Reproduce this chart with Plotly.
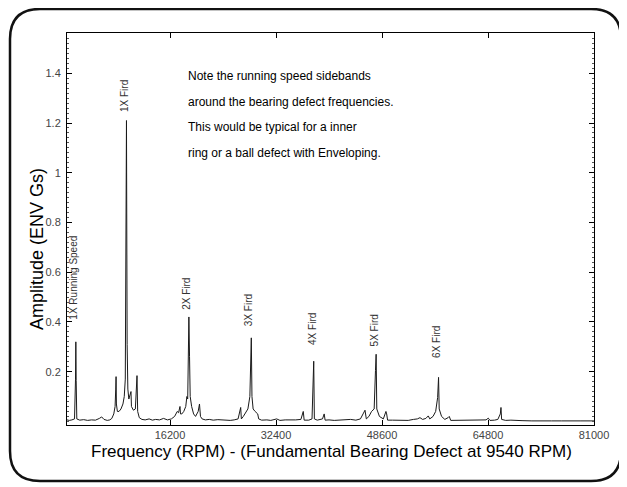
import plotly.graph_objects as go

# spectrum (RPM, ENV Gs)
freq = [450, 800, 1200, 1600, 1750, 1800, 1850, 1950, 2400, 3000, 3600, 4200, 4800, 5400, 5750, 6100,
        6600, 7000, 7300, 7600, 7800, 7900, 7950, 8000, 8150, 8400, 8700, 9000, 9200, 9360, 9450,
        9540, 9640, 9750, 9900, 10230, 10300, 10600, 10900, 11050, 11150, 11250, 11500, 11900, 12400,
        13000, 13500, 14000, 14600, 15200, 15800, 16400, 16900, 17300, 17500, 17720, 17800, 18000,
        18300, 18600, 18770, 18900, 19000, 19080, 19180, 19280, 19500, 19800, 20100, 20500, 20700,
        20850, 21100, 21600, 22200, 22800, 23500, 24200, 24800, 25400, 26000, 26600, 27000, 27100,
        27400, 27800, 28100, 28400, 28520, 28620, 28720, 28900, 29200, 29600, 29750, 30200, 31000,
        31600, 32500, 33000, 33800, 34600, 35400, 36200, 36560, 36700, 37400, 37900, 38060, 38160,
        38260, 38700, 39500, 39760, 39900, 40500, 41300, 42200, 43000, 43800, 44600, 45300, 45700,
        46000, 46200, 46600, 47000, 47400, 47600, 47700, 47800, 48200, 48800, 49200, 49310, 49450,
        50200, 51000, 51800, 52600, 53400, 54000, 54400, 54800, 55300, 55670, 55900, 56400, 56800,
        57100, 57240, 57340, 57700, 58200, 58700, 58880, 59100, 60000, 61000, 62000, 62700, 63400,
        64000, 64500, 64840, 65100, 65800, 66300, 66680, 66780, 66880, 67500, 68300, 69000, 70000,
        71500, 73000, 74500, 76000, 77500, 79000, 81000]
amp = [0.006, 0.004, 0.006, 0.010, 0.170, 0.320, 0.165, 0.010, 0.005, 0.007, 0.004, 0.006, 0.005, 0.012, 0.018, 0.008,
       0.004, 0.006, 0.012, 0.030, 0.060, 0.130, 0.180, 0.070, 0.040, 0.040, 0.050, 0.070, 0.100, 0.170, 0.780,
       1.210, 0.310, 0.130, 0.090, 0.120, 0.060, 0.045, 0.050, 0.110, 0.184, 0.040, 0.015, 0.008, 0.006,
       0.010, 0.005, 0.008, 0.006, 0.012, 0.006, 0.010, 0.020, 0.040, 0.035, 0.060, 0.030, 0.030,
       0.040, 0.060, 0.100, 0.090, 0.260, 0.420, 0.260, 0.100, 0.060, 0.030, 0.020, 0.040, 0.070,
       0.020, 0.010, 0.006, 0.008, 0.005, 0.007, 0.005, 0.006, 0.004, 0.006, 0.010, 0.056, 0.010,
       0.020, 0.040, 0.050, 0.100, 0.200, 0.336, 0.100, 0.050, 0.040, 0.030, 0.010, 0.005, 0.006,
       0.004, 0.010, 0.004, 0.006, 0.005, 0.006, 0.008, 0.040, 0.005, 0.005, 0.010, 0.164, 0.242,
       0.010, 0.005, 0.010, 0.030, 0.005, 0.006, 0.004, 0.006, 0.005, 0.008, 0.005, 0.010, 0.030,
       0.045, 0.010, 0.020, 0.040, 0.050, 0.204, 0.270, 0.050, 0.020, 0.010, 0.040, 0.030, 0.005,
       0.005, 0.004, 0.006, 0.004, 0.008, 0.010, 0.015, 0.008, 0.012, 0.022, 0.010, 0.020, 0.040,
       0.096, 0.177, 0.050, 0.020, 0.008, 0.015, 0.020, 0.004, 0.004, 0.003, 0.004, 0.003, 0.005,
       0.004, 0.006, 0.013, 0.004, 0.005, 0.008, 0.030, 0.056, 0.008, 0.004, 0.005, 0.003, 0.003,
       0.002, 0.003, 0.002, 0.002, 0.003, 0.002, 0.002]

x_ticks = [16200, 32400, 48600, 64800, 81000]
y_ticks = [0.2, 0.4, 0.6, 0.8, 1.0, 1.2, 1.4]
y_tick_text = ["0.2", "0.4", "0.6", "0.8", "1", "1.2", "1.4"]

peak_labels = ["1X Running Speed", "1X Fird", "2X Fird", "3X Fird", "4X Fird", "5X Fird", "6X Fird"]
peak_freq = [1800, 9540, 19080, 28620, 38160, 47700, 57240]
peak_amp = [0.320, 1.210, 0.420, 0.336, 0.242, 0.270, 0.177]
label_gap = [20, 7, 5, 10, 14, 6, 17]

note_lines = ["Note the running speed sidebands",
              "around the bearing defect frequencies.",
              "This would be typical for a inner",
              "ring or a ball defect with Enveloping."]

# page body has an 8px margin, so work in window pixels and shift
OFF = 8
W, H = 627 - OFF, 487 - OFF
L, R, T, B = 67 - OFF, 594 - OFF, 33 - OFF, 425 - OFF


def px(x):
    return (x - OFF - L) / (R - L)


def py(y):
    return (B - (y - OFF)) / (B - T)


fig = go.Figure()
fig.add_trace(go.Scatter(x=freq, y=amp, mode="lines",
                         line=dict(color="#1a1a1a", width=1), showlegend=False))

ann = []
for t, f, a, g in zip(peak_labels, peak_freq, peak_amp, label_gap):
    ann.append(dict(x=f, y=a, xref="x", yref="y", text=t, showarrow=False, textangle=-90,
                    xanchor="center", yanchor="bottom", yshift=g, xshift=-2,
                    font=dict(size=10, color="#333")))
for i, t in enumerate(note_lines):
    ann.append(dict(x=px(186), y=py(76 + 25.5 * i), xref="paper", yref="paper", text=t,
                    showarrow=False, xanchor="left", yanchor="middle",
                    font=dict(size=12, color="#000")))
ann.append(dict(x=px(331), y=py(451), xref="paper", yref="paper",
                text="Frequency (RPM) - (Fundamental Bearing Defect at 9540 RPM)",
                showarrow=False, xanchor="center", yanchor="middle",
                font=dict(size=17, color="#000")))
ann.append(dict(x=px(37), y=py(249), xref="paper", yref="paper", text="Amplitude (ENV Gs)",
                showarrow=False, textangle=-90, xanchor="center", yanchor="middle",
                font=dict(size=18, color="#000")))

# rounded frame around the whole picture (window pixels)
x0, x1, y0, y1, r = 10, 621, 9, 481, 30
pts = [("M", x0 + r, y0), ("L", x1 - r, y0), ("Q", x1, y0, x1, y0 + r), ("L", x1, y1 - r),
       ("Q", x1, y1, x1 - r, y1), ("L", x0 + r, y1), ("Q", x0, y1, x0, y1 - r), ("L", x0, y0 + r),
       ("Q", x0, y0, x0 + r, y0)]
path = ""
for p in pts:
    coords = p[1:]
    segs = ["%.5f,%.5f" % (px(coords[k]), py(coords[k + 1])) for k in range(0, len(coords), 2)]
    path += p[0] + " ".join(segs) + " "
path += "Z"

fig.update_layout(
    width=W, height=H, margin=dict(l=L, r=W - R, t=T, b=H - B),
    paper_bgcolor="white", plot_bgcolor="white",
    font=dict(family="Arial, Liberation Sans, sans-serif"),
    annotations=ann,
    shapes=[dict(type="path", xref="paper", yref="paper", path=path,
                 line=dict(color="#111", width=2.5))],
)
fig.update_xaxes(range=[450, 81000], tickvals=x_ticks, ticktext=[str(v) for v in x_ticks],
                 ticks="inside", ticklen=5, tickcolor="#000", showgrid=False, zeroline=False,
                 showline=True, linecolor="#000", linewidth=1, mirror="ticks",
                 tickfont=dict(size=11, color="#444"))
fig.update_yaxes(range=[-0.0145, 1.562], tickvals=y_ticks, ticktext=y_tick_text,
                 ticks="inside", ticklen=5, tickcolor="#000", showgrid=False, zeroline=False,
                 showline=True, linecolor="#000", linewidth=1, mirror="ticks",
                 minor=dict(ticks="inside", ticklen=2, dtick=0.02, tickcolor="#555"),
                 tickfont=dict(size=11, color="#444"), ticklabelstandoff=3)

fig.write_html("out.html")
